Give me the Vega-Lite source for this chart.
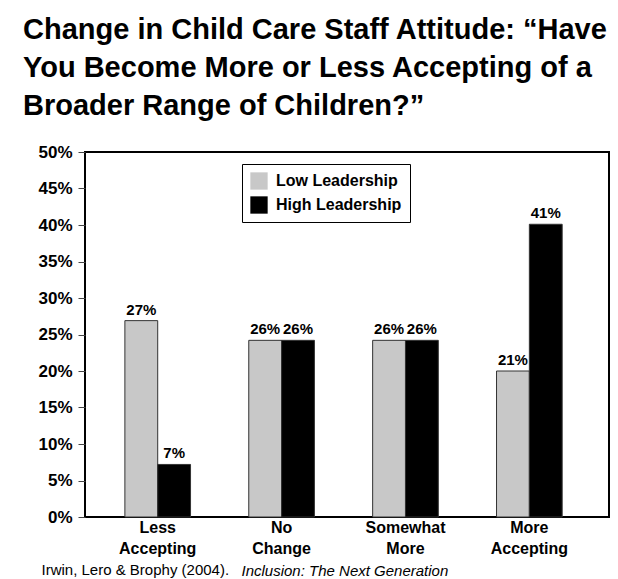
{
  "$schema": "https://vega.github.io/schema/vega-lite/v6.json",
  "width": 524,
  "height": 365,
  "autosize": {"type": "none"},
  "padding": {"left": 85, "top": 152, "right": 9, "bottom": 62},
  "background": "white",
  "title": {
    "text": ["Change in Child Care Staff Attitude: “Have", "You Become More or Less Accepting of a", "Broader Range of Children?”"],
    "anchor": "start",
    "frame": "group",
    "font": "Liberation Sans",
    "fontSize": 29,
    "fontWeight": "bold",
    "color": "black",
    "lineHeight": 38,
    "dx": -62,
    "offset": 22
  },
  "data": {
    "values": [
      {"category": "Less Accepting", "group": "Low Leadership", "value": 26.9, "label": "27%"},
      {"category": "Less Accepting", "group": "High Leadership", "value": 7.2, "label": "7%"},
      {"category": "No Change", "group": "Low Leadership", "value": 24.2, "label": "26%"},
      {"category": "No Change", "group": "High Leadership", "value": 24.2, "label": "26%"},
      {"category": "Somewhat More", "group": "Low Leadership", "value": 24.2, "label": "26%"},
      {"category": "Somewhat More", "group": "High Leadership", "value": 24.2, "label": "26%"},
      {"category": "More Accepting", "group": "Low Leadership", "value": 20.0, "label": "21%"},
      {"category": "More Accepting", "group": "High Leadership", "value": 40.1, "label": "41%"}
    ]
  },
  "encoding": {
    "x": {
      "field": "category",
      "type": "nominal",
      "sort": ["Less Accepting", "No Change", "Somewhat More", "More Accepting"],
      "scale": {"paddingInner": 0.47, "paddingOuter": 0.35, "align": 0.46},
      "axis": {
        "labelAngle": 0,
        "labelExpr": "split(datum.label, ' ')",
        "labelFont": "Liberation Sans",
        "labelFontSize": 16,
        "labelFontWeight": "bold",
        "labelColor": "black",
        "labelLineHeight": 21,
        "labelPadding": 2,
        "labelBaseline": "top",
        "domain": false,
        "ticks": false,
        "title": "Irwin, Lero & Brophy (2004).",
        "titleFont": "Liberation Sans",
        "titleFontSize": 15,
        "titleFontWeight": "normal",
        "titleColor": "black",
        "titleAlign": "left",
        "titleBaseline": "alphabetic",
        "titleAngle": 0,
        "titleX": -44,
        "titleY": 57
      }
    },
    "xOffset": {"field": "group", "type": "nominal", "sort": ["Low Leadership", "High Leadership"]},
    "y": {
      "field": "value",
      "type": "quantitative",
      "scale": {"domain": [0, 50], "nice": false},
      "axis": {
        "values": [0, 5, 10, 15, 20, 25, 30, 35, 40, 45, 50],
        "labelExpr": "datum.value + '%'",
        "labelFont": "Liberation Sans",
        "labelFontSize": 17,
        "labelFontWeight": "bold",
        "labelColor": "black",
        "labelPadding": 6,
        "tickSize": 7,
        "tickColor": "#444",
        "tickWidth": 1,
        "domain": false,
        "grid": false,
        "title": "Inclusion: The Next Generation",
        "titleFont": "Liberation Sans",
        "titleFontSize": 15,
        "titleFontWeight": "normal",
        "titleFontStyle": "italic",
        "titleColor": "black",
        "titleAngle": 0,
        "titleAlign": "left",
        "titleBaseline": "alphabetic",
        "titleX": 156,
        "titleY": 423
      }
    }
  },
  "layer": [
    {
      "mark": {"type": "bar", "stroke": "#333", "strokeWidth": 1},
      "encoding": {
        "color": {
          "field": "group",
          "type": "nominal",
          "sort": ["Low Leadership", "High Leadership"],
          "scale": {"domain": ["Low Leadership", "High Leadership"], "range": ["#c8c8c8", "#000000"]},
          "legend": {
            "title": null,
            "orient": "none",
            "legendX": 157,
            "legendY": 12,
            "symbolType": "square",
            "symbolSize": 300,
            "symbolStrokeWidth": 0,
            "labelFont": "Liberation Sans",
            "labelFontSize": 16,
            "labelFontWeight": "bold",
            "labelColor": "black",
            "labelOffset": 8,
            "rowPadding": 6,
            "padding": 8,
            "strokeColor": "black",
            "fillColor": "white"
          }
        }
      }
    },
    {
      "mark": {"type": "text", "baseline": "alphabetic", "dy": -6, "font": "Liberation Sans", "fontSize": 15, "fontWeight": "bold", "color": "black"},
      "encoding": {"text": {"field": "label"}}
    }
  ],
  "config": {
    "view": {"stroke": "black", "strokeWidth": 2},
    "legend": {"strokeWidth": 1}
  }
}
